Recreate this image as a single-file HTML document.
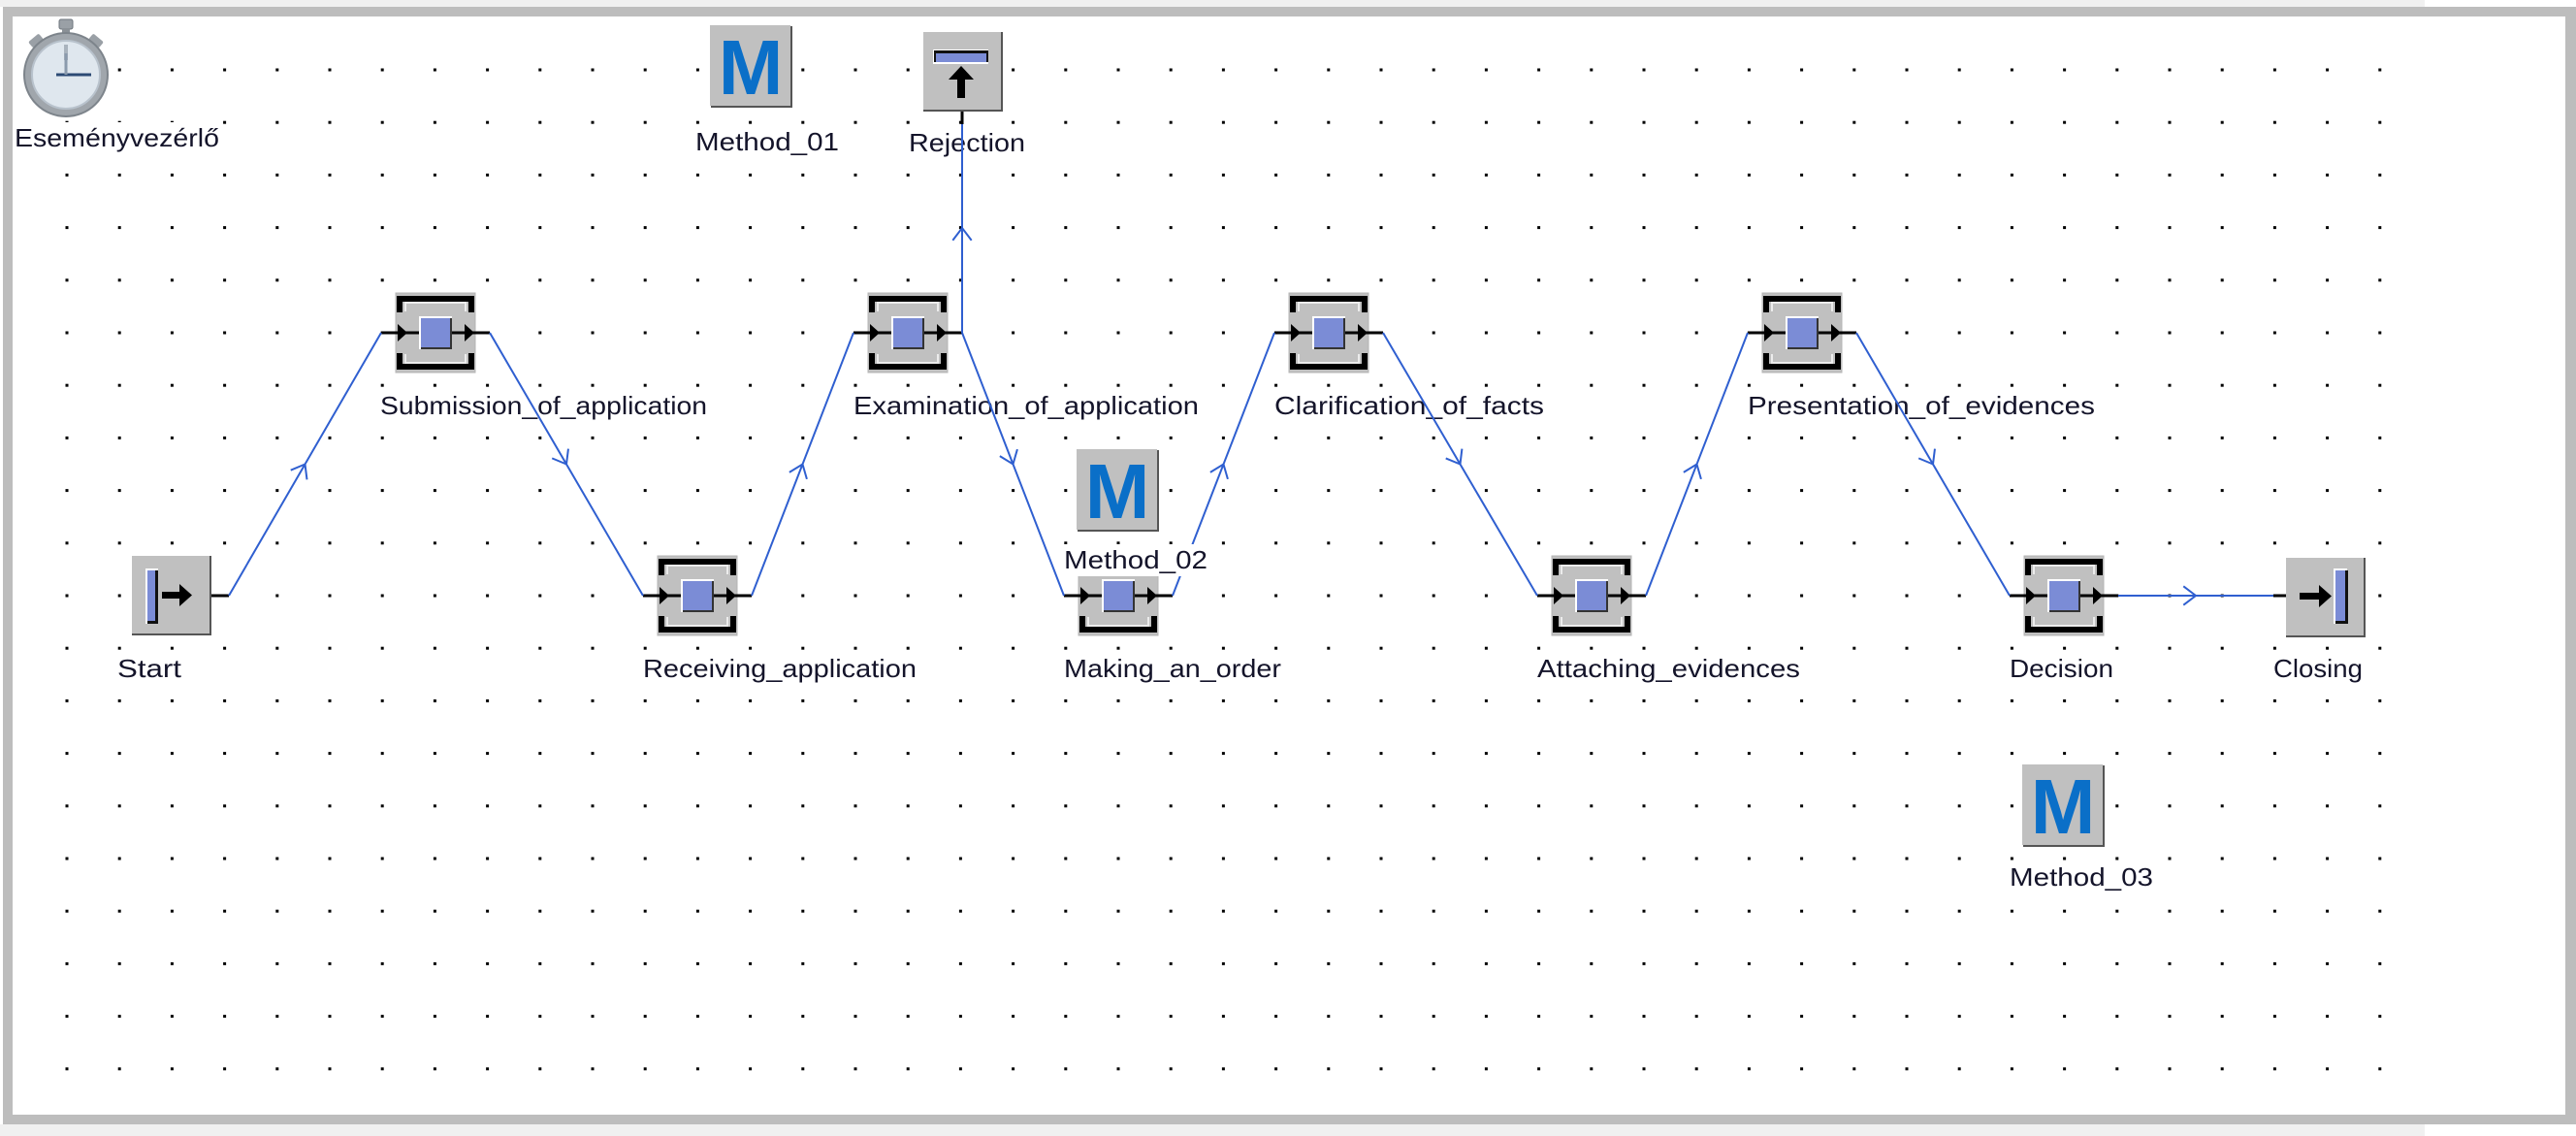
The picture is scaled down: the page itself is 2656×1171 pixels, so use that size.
<!DOCTYPE html>
<html><head><meta charset="utf-8"><style>
html,body{margin:0;padding:0;background:#fff;}
svg{display:block;}
text{font-family:"Liberation Sans",sans-serif;font-size:26px;fill:#14142a;}
</style></head><body>
<svg width="2656" height="1171" viewBox="0 0 2656 1171" xmlns="http://www.w3.org/2000/svg">
<defs>
<pattern id="dots" x="67.5" y="70.5" width="54.2" height="54.2" patternUnits="userSpaceOnUse">
<rect x="0" y="0" width="3" height="3" fill="#000"/>
</pattern>
<g id="proc">
<rect x="-41" y="-41" width="82" height="82" fill="#c0c0c0" stroke="#b4b4b4" stroke-width="1"/>
<path d="M-31,-22 V-31 H31 V-22 M-31,22 V31 H31 V22" fill="none" stroke="#ececec" stroke-width="2"/>
<path d="M-37,-21 V-35 H37 V-21 M-37,21 V35 H37 V21" fill="none" stroke="#000" stroke-width="6"/>
<line x1="-56" y1="0" x2="-17" y2="0" stroke="#000" stroke-width="3"/>
<line x1="17" y1="0" x2="56" y2="0" stroke="#000" stroke-width="3"/>
<polygon points="-39,-9 -29,0 -39,9" fill="#000"/>
<polygon points="30,-9 40,0 30,9" fill="#000"/>
<rect x="-17" y="-17" width="34" height="34" fill="#fff"/>
<rect x="-15" y="-15" width="32" height="32" fill="#333"/>
<rect x="-15" y="-15" width="30" height="30" fill="#7b8cd6"/>
</g>
<g id="meth">
<rect x="-42" y="-42" width="84" height="84" fill="#555"/>
<rect x="-43" y="-43" width="83" height="83" fill="#c0c0c0"/>
<text x="-1" y="28" text-anchor="middle" style="font-size:80px;font-weight:bold;fill:#0a6fc8">M</text>
</g>
</defs>

<!-- background & frame -->
<rect x="0" y="0" width="2500" height="7" fill="#f0f0f0"/>
<rect x="0" y="1159" width="2500" height="12" fill="#f0f0f0"/>
<rect x="3" y="7" width="2653" height="1152" fill="#bdbdbd"/>
<rect x="13" y="17" width="2632" height="1132" fill="#fff"/>
<rect x="60" y="62" width="2410" height="1045" fill="url(#dots)"/>

<!-- clock -->
<g>
<rect x="61" y="20" width="14" height="10" rx="2" fill="#9aa0a6" stroke="#6f767d"/>
<rect x="64" y="29" width="8" height="8" fill="#8a9096"/>
<rect x="30" y="38" width="14" height="8" rx="2" fill="#9aa0a6" transform="rotate(-40 37 42)"/>
<rect x="92" y="38" width="14" height="8" rx="2" fill="#9aa0a6" transform="rotate(40 99 42)"/>
<circle cx="68" cy="77" r="43" fill="#a0a6ac" stroke="#7d848b" stroke-width="2"/>
<circle cx="68" cy="77" r="35" fill="#dfe7ee" stroke="#b8c2cc" stroke-width="2"/>
<rect x="66" y="46" width="4" height="16" fill="#a9b3bd"/>
<line x1="58" y1="77" x2="94" y2="77" stroke="#2c4a74" stroke-width="3"/>
<line x1="68" y1="77" x2="68" y2="55" stroke="#8a9aac" stroke-width="3"/>
</g>

<!-- nodes -->
<!-- Start -->
<g>
<rect x="136" y="573" width="82" height="82" fill="#555"/>
<rect x="136" y="573" width="80" height="80" fill="#c0c0c0"/>
<rect x="150" y="586" width="13" height="57" fill="#fff"/>
<rect x="152" y="588" width="11" height="55" fill="#111"/>
<rect x="152" y="588" width="8" height="52" fill="#7b8cd6"/>
<rect x="167" y="610" width="20" height="7" fill="#000"/>
<polygon points="185,602 198,613.5 185,625" fill="#000"/>
<line x1="218" y1="614" x2="236" y2="614" stroke="#000" stroke-width="3"/>
</g>
<!-- Closing -->
<g>
<line x1="2344" y1="614" x2="2357" y2="614" stroke="#000" stroke-width="3"/>
<rect x="2357" y="575" width="82" height="82" fill="#555"/>
<rect x="2357" y="575" width="80" height="80" fill="#c0c0c0"/>
<rect x="2406" y="586" width="14" height="57" fill="#fff"/>
<rect x="2408" y="588" width="13" height="55" fill="#111"/>
<rect x="2408" y="588" width="10" height="52" fill="#7b8cd6"/>
<rect x="2371" y="611" width="22" height="7" fill="#000"/>
<polygon points="2391,603 2404,614.5 2391,626" fill="#000"/>
</g>
<!-- Rejection -->
<g>
<rect x="952" y="33" width="82" height="82" fill="#555"/>
<rect x="952" y="33" width="80" height="80" fill="#c0c0c0"/>
<rect x="962" y="51" width="57" height="15" fill="#fff"/>
<rect x="963" y="52" width="56" height="12" fill="#111"/>
<rect x="965" y="55" width="52" height="9" fill="#7b8cd6"/>
<polygon points="978,82 991,68 1004,82" fill="#000"/>
<rect x="987" y="80" width="8" height="21" fill="#000"/>
<line x1="992" y1="115" x2="992" y2="128" stroke="#000" stroke-width="3"/>
</g>

<use href="#proc" x="449" y="343"/>
<use href="#proc" x="719" y="614"/>
<use href="#proc" x="936" y="343"/>
<use href="#proc" x="1153" y="614"/>
<use href="#proc" x="1370" y="343"/>
<use href="#proc" x="1641" y="614"/>
<use href="#proc" x="1858" y="343"/>
<use href="#proc" x="2128" y="614"/>

<use href="#meth" x="775" y="69"/>
<use href="#meth" x="1153" y="506"/>
<use href="#meth" x="2128" y="831"/>

<!-- labels -->
<g>
<rect x="13" y="126" width="216" height="32" fill="#fff"/>
<text x="15" y="151" textLength="211" lengthAdjust="spacingAndGlyphs">Eseményvezérlő</text>
<rect x="714" y="131" width="154" height="30" fill="#fff"/>
<text x="717" y="155" textLength="148" lengthAdjust="spacingAndGlyphs">Method_01</text>
<rect x="933" y="132" width="126" height="30" fill="#fff"/>
<text x="937" y="156" textLength="120" lengthAdjust="spacingAndGlyphs">Rejection</text>
<text x="392" y="427" textLength="337" lengthAdjust="spacingAndGlyphs">Submission_of_application</text>
<text x="880" y="427" textLength="356" lengthAdjust="spacingAndGlyphs">Examination_of_application</text>
<text x="1314" y="427" textLength="278" lengthAdjust="spacingAndGlyphs">Clarification_of_facts</text>
<text x="1802" y="427" textLength="358" lengthAdjust="spacingAndGlyphs">Presentation_of_evidences</text>
<text x="121" y="698" textLength="66" lengthAdjust="spacingAndGlyphs">Start</text>
<text x="663" y="698" textLength="282" lengthAdjust="spacingAndGlyphs">Receiving_application</text>
<text x="1097" y="698" textLength="224" lengthAdjust="spacingAndGlyphs">Making_an_order</text>
<text x="1585" y="698" textLength="271" lengthAdjust="spacingAndGlyphs">Attaching_evidences</text>
<text x="2072" y="698" textLength="107" lengthAdjust="spacingAndGlyphs">Decision</text>
<text x="2344" y="698" textLength="92" lengthAdjust="spacingAndGlyphs">Closing</text>
<rect x="2069" y="888" width="156" height="32" fill="#fff"/>
<text x="2072" y="913" textLength="148" lengthAdjust="spacingAndGlyphs">Method_03</text>
</g>

<!-- connectors -->
<g stroke="#2f5fd0" stroke-width="2" fill="none">
<polyline points="236,614 393,343"/>
<polyline points="505,343 663,614"/>
<polyline points="775,614 880,343"/>
<polyline points="992,343 1097,614"/>
<polyline points="992,343 992,128"/>
<polyline points="1209,614 1314,343"/>
<polyline points="1426,343 1585,614"/>
<polyline points="1697,614 1802,343"/>
<polyline points="1914,343 2072,614"/>
<polyline points="2184,614 2344,614"/>
</g>
<g stroke="#2f5fd0" stroke-width="2" fill="none" id="heads"></g>

<!-- Method_02 label over everything -->
<rect x="1095" y="561" width="154" height="33" fill="#fff"/>
<text x="1097" y="586" textLength="148" lengthAdjust="spacingAndGlyphs">Method_02</text>

<script>
(function(){
var segs=[[236,614,393,343],[505,343,663,614],[775,614,880,343],[992,343,1097,614],[992,343,992,128],[1209,614,1314,343],[1426,343,1585,614],[1697,614,1802,343],[1914,343,2072,614],[2184,614,2344,614]];
var g=document.getElementById('heads');var ns='http://www.w3.org/2000/svg';
segs.forEach(function(s){
 var mx=(s[0]+s[2])/2,my=(s[1]+s[3])/2;
 if(s[0]===992&&s[2]===992){my=235;}
 var a=Math.atan2(s[3]-s[1],s[2]-s[0]);var L=16,sp=0.65;
 var p1=[mx-L*Math.cos(a-sp),my-L*Math.sin(a-sp)],p2=[mx-L*Math.cos(a+sp),my-L*Math.sin(a+sp)];
 var pl=document.createElementNS(ns,'polyline');
 pl.setAttribute('points',p1.join(',')+' '+mx+','+my+' '+p2.join(','));
 g.appendChild(pl);
});
})();
</script>
</svg>
</body></html>
